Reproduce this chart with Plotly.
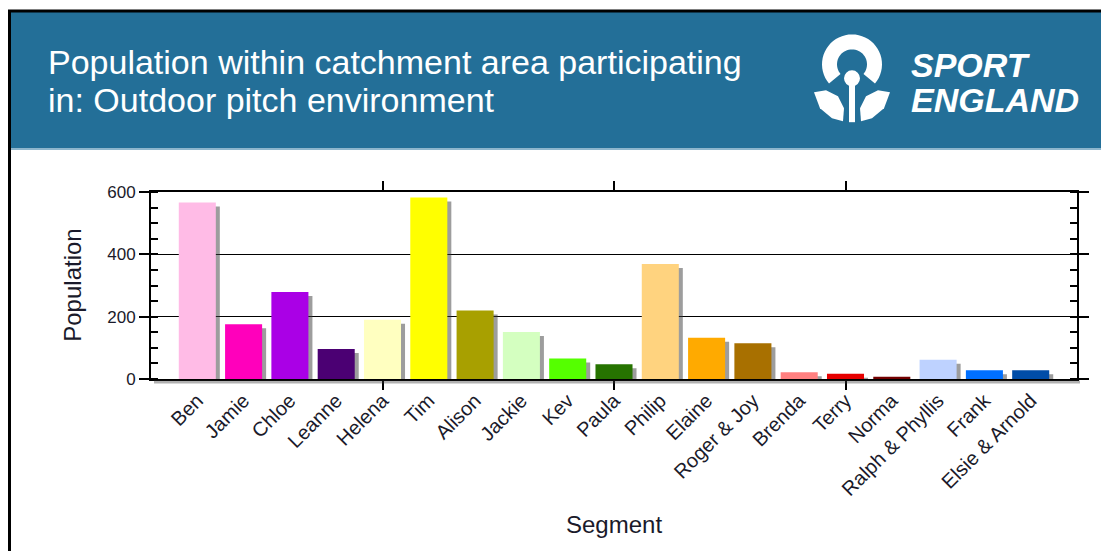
import math
import plotly.graph_objects as go

# ---- data ----
segments = ["Ben", "Jamie", "Chloe", "Leanne", "Helena", "Tim", "Alison", "Jackie", "Kev",
            "Paula", "Philip", "Elaine", "Roger & Joy", "Brenda", "Terry", "Norma",
            "Ralph & Phyllis", "Frank", "Elsie & Arnold"]
population = [566, 176, 279, 96, 190, 582, 220, 151, 66, 47, 369, 132, 115, 22, 17, 7, 62, 28, 28]
bar_colors = ["#FFBBE6", "#FF00BB", "#AA00E6", "#4B0073", "#FFFFC0", "#FFFF00", "#A8A000",
              "#D4FFC0", "#55FF00", "#267300", "#FFD37F", "#FFAA00", "#A87000", "#FF8080",
              "#E60000", "#730000", "#BED2FF", "#0070FF", "#004DA8"]
y_tick_vals = [0, 200, 400, 600]
title_lines = ["Population within catchment area participating", "in: Outdoor pitch environment"]

# ---- layout geometry (screen pixels; page body has an 8px margin) ----
OFF = 8
SW, SH = 1109, 551
FW, FH = SW - OFF, SH - OFF
PL, PR, PT, PB = 151, 1077, 192, 379.5   # plot area in screen pixels
PW, PH = PR - PL, PB - PT
X_RANGE = [-1, len(segments)]
Y_RANGE = [0, 600]


def px(x):
    return (x - PL) / PW


def py(y):
    return (PB - y) / PH


idx = list(range(len(segments)))
bar_w = 0.8
dx = 4 / PW * (X_RANGE[1] - X_RANGE[0])
dy = 4 / PH * (Y_RANGE[1] - Y_RANGE[0])

fig = go.Figure()
# drop shadow
fig.add_trace(go.Bar(x=idx, y=population, base=-dy, width=bar_w, offset=-bar_w / 2 + dx,
                     marker=dict(color="rgba(60,60,60,0.5)", line=dict(width=0)),
                     hoverinfo="skip", showlegend=False))
fig.add_trace(go.Bar(x=idx, y=population, width=bar_w, offset=-bar_w / 2,
                     marker=dict(color=bar_colors, line=dict(width=0)),
                     showlegend=False, name="Population"))

FONT = "Arial, Liberation Sans, sans-serif"
TXT = "#1a1a2a"

shapes = [
    # header band
    dict(type="rect", xref="paper", yref="paper", x0=px(10), x1=px(SW + 5), y0=py(11), y1=py(148),
         fillcolor="#236F98", line=dict(width=0), layer="below"),
    dict(type="line", xref="paper", yref="paper", x0=px(10), x1=px(SW + 5), y0=py(149), y1=py(149),
         line=dict(color="#8DB6CD", width=2)),
    # outer black border
    dict(type="rect", xref="paper", yref="paper", x0=px(9.5), x1=px(SW + 10), y0=py(10.5), y1=py(SH + 10),
         line=dict(color="black", width=3), fillcolor="rgba(0,0,0,0)"),
    # bottom axis shadow
    dict(type="rect", xref="paper", yref="paper", x0=px(PL + 3), x1=px(PR + 3), y0=py(381), y1=py(384),
         fillcolor="rgba(60,60,60,0.4)", line=dict(width=0)),
]


def ring_path(cx, cy, ro, ri, a0, a1, n=40):
    pts_o = [(cx + ro * math.cos(math.radians(a0 + (a1 - a0) * k / n)),
              cy - ro * math.sin(math.radians(a0 + (a1 - a0) * k / n))) for k in range(n + 1)]
    pts_i = [(cx + ri * math.cos(math.radians(a1 - (a1 - a0) * k / n)),
              cy - ri * math.sin(math.radians(a1 - (a1 - a0) * k / n))) for k in range(n + 1)]
    pts = pts_o + pts_i
    return "M " + " L ".join(f"{px(x):.5f},{py(y):.5f}" for x, y in pts) + " Z"


def poly_path(pts):
    return "M " + " L ".join(f"{px(x):.5f},{py(y):.5f}" for x, y in pts) + " Z"


# Sport England logo (approximate)
cx, cy = 852, 64
shapes.append(dict(type="path", xref="paper", yref="paper", path=ring_path(cx, cy, 30, 15, -40, 220),
                   fillcolor="white", line=dict(width=0)))
shapes.append(dict(type="circle", xref="paper", yref="paper", x0=px(cx - 8), x1=px(cx + 8),
                   y0=py(cy + 6), y1=py(cy + 22), fillcolor="white", line=dict(width=0)))
shapes.append(dict(type="path", xref="paper", yref="paper",
                   path=poly_path([(849, 84), (855, 84), (855, 122), (849, 122)]),
                   fillcolor="white", line=dict(width=0)))
shapes.append(dict(type="path", xref="paper", yref="paper",
                   path=poly_path([(814, 92), (826, 90), (838, 96), (844, 108), (843, 121), (832, 118),
                                   (820, 108)]),
                   fillcolor="white", line=dict(width=0)))
shapes.append(dict(type="path", xref="paper", yref="paper",
                   path=poly_path([(890, 92), (878, 90), (866, 96), (860, 108), (861, 121), (872, 118),
                                   (884, 108)]),
                   fillcolor="white", line=dict(width=0)))

annotations = [
    dict(text=title_lines[0], x=px(46), y=py(62), xref="paper", yref="paper", xanchor="left",
         yanchor="middle", showarrow=False, font=dict(family=FONT, size=34, color="white")),
    dict(text=title_lines[1], x=px(46), y=py(100), xref="paper", yref="paper", xanchor="left",
         yanchor="middle", showarrow=False, font=dict(family=FONT, size=34, color="white")),
    dict(text="<b><i>SPORT</i></b>", x=px(910), y=py(64), xref="paper", yref="paper", xanchor="left",
         yanchor="middle", showarrow=False, height=31, valign="middle", borderpad=0,
         font=dict(family=FONT, size=34, color="white")),
    dict(text="<b><i>ENGLAND</i></b>", x=px(910), y=py(99), xref="paper", yref="paper", xanchor="left",
         yanchor="middle", showarrow=False, height=31, valign="middle", borderpad=0,
         font=dict(family=FONT, size=34, color="white")),
    dict(text="Population", x=px(73), y=py(286), xref="paper", yref="paper", textangle=-90,
         xanchor="center", yanchor="middle", showarrow=False,
         font=dict(family=FONT, size=24, color=TXT)),
    dict(text="Segment", x=px(614), y=py(525), xref="paper", yref="paper",
         xanchor="center", yanchor="middle", showarrow=False,
         font=dict(family=FONT, size=24, color=TXT)),
]

fig.update_layout(
    width=FW, height=FH,
    margin=dict(l=PL - OFF, r=FW - (PR - OFF), t=PT - OFF, b=FH - (PB - OFF), pad=0),
    paper_bgcolor="white", plot_bgcolor="white",
    barmode="overlay", bargap=0.2,
    shapes=shapes, annotations=annotations,
    font=dict(family=FONT, color=TXT),
    xaxis=dict(range=X_RANGE, tickmode="array", tickvals=idx, ticktext=segments, tickangle=-45,
               ticks="", showline=True, linecolor="black", linewidth=2, mirror="ticks",
               showgrid=False, zeroline=False, tickfont=dict(size=20, family=FONT, color=TXT),
               minor=dict(tickmode="array", tickvals=[4, 9, 14], ticks="outside", ticklen=9,
                          tickwidth=1.5, tickcolor="black", showgrid=False)),
    yaxis=dict(range=Y_RANGE, tickmode="array", tickvals=y_tick_vals, ticks="outside", ticklen=10,
               tickwidth=1.5, tickcolor="black", showline=True, linecolor="black", linewidth=2,
               mirror="ticks", showgrid=True, gridcolor="black", gridwidth=1, zeroline=False,
               tickfont=dict(size=17, family=FONT, color=TXT),
               minor=dict(dtick=50, ticks="inside", ticklen=7, tickwidth=1.5, tickcolor="black",
                          showgrid=False)),
)

fig.write_html("out.html")
